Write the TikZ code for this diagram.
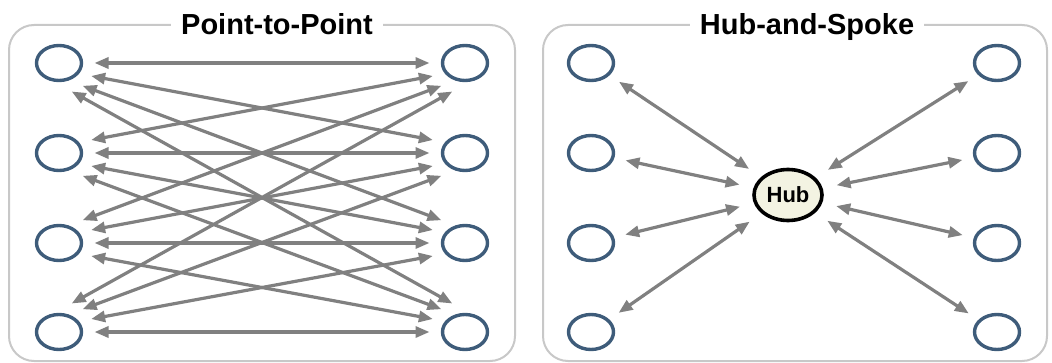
\documentclass[tikz,border=0pt]{standalone}
\usepackage{fontspec}
\setmainfont{Liberation Sans}
\usetikzlibrary{arrows.meta,shapes.geometric}

\definecolor{termblue}{RGB}{62,92,122}
\definecolor{linkgray}{RGB}{128,128,128}
\definecolor{hubfill}{RGB}{243,243,226}
\definecolor{framegray}{RGB}{200,200,200}

\begin{document}
\begin{tikzpicture}[x=0.5pt,y=-0.5pt,
    panel/.style={draw=framegray,line width=1pt,rounded corners=12.5pt},
    title/.style={fill=white,inner xsep=5pt,inner ysep=1pt,anchor=base,
        font=\fontsize{14.5}{17}\selectfont\bfseries},
    term/.style={ellipse,draw=termblue,line width=1.7pt,minimum width=22.5pt,
        minimum height=17.5pt,inner sep=0pt,outer sep=6.5pt},
    hub/.style={ellipse,draw=black,line width=1.8pt,fill=hubfill,
        minimum width=34pt,minimum height=25.5pt,inner sep=0pt,outer sep=8pt,
        font=\fontsize{11}{13}\selectfont\bfseries},
    link/.style={draw=linkgray,line width=1.6pt,
        {Triangle[length=7pt,width=5.5pt]}-{Triangle[length=7pt,width=5.5pt]}}
  ]
\useasboundingbox (0,0) rectangle (1052,363);
\draw[panel] (9,25) rectangle (515,361);
\draw[panel] (543,25) rectangle (1047,361);
\node[title] (ptp) at (277,35) {Point-to-Point};
\node[title] (has) at (807,35) {Hub-and-Spoke};

\foreach \r [count=\i] in {63,153,243,332} {
  \node[term] (l\i) at (59,\r) {};
  \node[term] (r\i) at (465,\r) {};
  \node[term] (sl\i) at (591,\r) {};
  \node[term] (sr\i) at (997,\r) {};
}
\node[hub] (hub) at (788,195) {Hub};

% every left end to every right end
\foreach \i in {1,...,4}
  \foreach \j in {1,...,4} {
    \pgfmathtruncatemacro\ang{-22*(\j-\i)}
    \pgfmathtruncatemacro\bng{180+\ang}
    \draw[link] (l\i.\ang) -- (r\j.\bng);
  }

% spokes
\foreach \i in {1,...,4} {
  \draw[link] (sl\i) -- (hub);
  \draw[link] (sr\i) -- (hub);
}
\end{tikzpicture}
\end{document}
